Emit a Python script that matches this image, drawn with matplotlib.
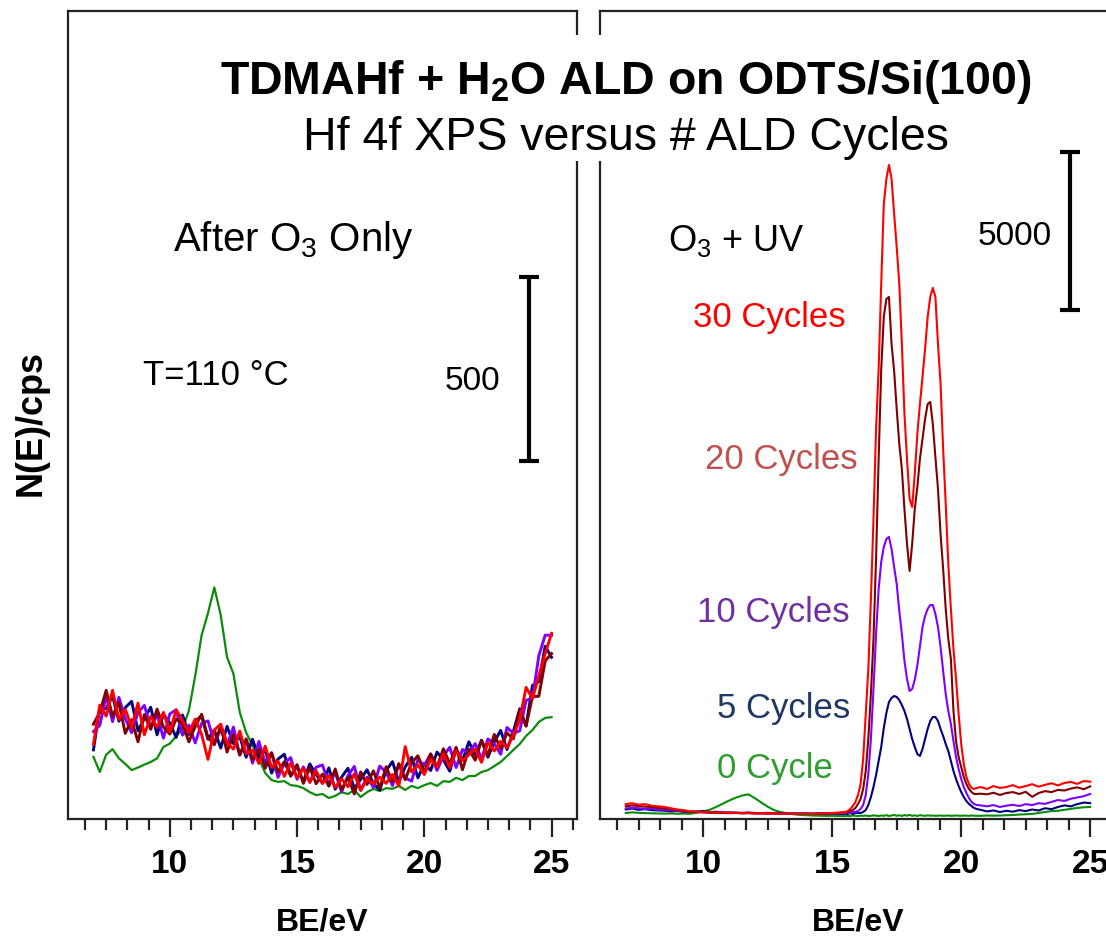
import numpy as np
import matplotlib
matplotlib.use("Agg")
import matplotlib.pyplot as plt
from matplotlib.patches import Rectangle
from matplotlib.ticker import MultipleLocator

plt.rcParams['font.family'] = ['Liberation Sans', 'DejaVu Sans']
plt.rcParams['mathtext.fontset'] = 'custom'
plt.rcParams['mathtext.rm'] = 'Liberation Sans'
plt.rcParams['mathtext.bf'] = 'Liberation Sans:bold'
plt.rcParams['mathtext.it'] = 'Liberation Sans:italic'

# ---------------- data ----------------
# Left panel (After O3 only): BE grid 7..25 eV, 0.25 eV steps (relative counts)
BE_LEFT = np.linspace(7.0, 25.0, 73)

left_0cyc = [169, 128, 175, 190, 165, 150, 133, 140, 148, 155, 165, 196,
             205, 225, 245, 295, 390, 500, 560, 630, 555, 440, 395, 290,
             235, 200, 165, 125, 106, 101, 103, 92, 90, 84, 73, 65,
             68, 57, 63, 73, 68, 79, 60, 73, 82, 76, 84, 82,
             90, 79, 90, 84, 92, 98, 90, 103, 101, 112, 106, 117,
             117, 128, 133, 144, 155, 171, 188, 204, 226, 242, 264, 275,
             277]
left_5cyc = [188, 305, 300, 335, 266, 303, 320, 240, 274, 304, 229, 285,
             261, 222, 283, 230, 267, 280, 217, 242, 193, 252, 205, 224,
             168, 217, 166, 188, 125, 163, 176, 117, 143, 102, 150, 121,
             97, 139, 81, 114, 138, 83, 108, 134, 96, 79, 132, 156,
             100, 142, 168, 112, 151, 132, 182, 161, 130, 190, 159, 210,
             175, 214, 168, 210, 241, 189, 238, 300, 253, 363, 374, 470,
             440]
left_10cyc = [238, 255, 335, 265, 331, 273, 235, 290, 309, 249, 284, 220,
              286, 297, 228, 255, 207, 260, 267, 207, 243, 202, 250, 174,
              213, 152, 211, 153, 180, 113, 151, 167, 108, 142, 100, 141,
              147, 94, 126, 74, 118, 143, 78, 114, 86, 144, 127, 91,
              150, 112, 103, 162, 146, 177, 132, 171, 195, 140, 189, 180,
              205, 164, 218, 205, 176, 249, 233, 240, 323, 328, 444, 500,
              500]
left_20cyc = [258, 290, 350, 280, 316, 233, 270, 210, 284, 244, 299, 250,
              231, 272, 258, 210, 252, 285, 222, 202, 253, 182, 230, 174,
              218, 162, 191, 138, 180, 128, 156, 117, 148, 97, 140, 96,
              122, 89, 136, 79, 113, 68, 128, 94, 131, 84, 142, 101,
              150, 107, 153, 172, 126, 177, 142, 191, 150, 195, 134, 190,
              160, 214, 173, 230, 191, 234, 218, 295, 253, 333, 334, 430,
              450]
left_30cyc = [203, 310, 280, 350, 271, 298, 250, 315, 229, 279, 249, 290,
              236, 297, 268, 235, 272, 230, 162, 242, 258, 207, 190, 239,
              178, 187, 151, 198, 140, 158, 116, 152, 113, 137, 100, 131,
              97, 119, 86, 109, 88, 123, 78, 109, 96, 114, 97, 121,
              90, 197, 128, 147, 121, 162, 142, 176, 140, 185, 159, 175,
              190, 154, 208, 185, 211, 194, 228, 270, 358, 328, 389, 450,
              505]

# Right panel (O3 + UV): BE grid 7..15.5 (0.25), 15.6..20.6 (0.1), 20.75..25 (0.25)
BE_RIGHT = np.concatenate([np.linspace(7.0, 15.5, 35),
                           np.linspace(15.6, 20.6, 51),
                           np.linspace(20.75, 25.0, 18)])

right_0cyc = ([190, 210, 195, 185, 180, 175, 170, 175, 165, 170, 165, 200,
               240, 290, 380, 480, 580, 670, 740, 780, 660, 520, 390, 280,
               220, 180, 150, 130, 120, 110, 105, 100, 100, 95, 95]
              + [100, 95, 110, 100, 95, 105, 100, 110, 95, 100, 115, 105, 95,
                 110, 100, 120, 95, 110, 130, 100, 120, 95, 125, 105, 130, 100,
                 115, 95, 120, 110, 100, 115, 105, 110, 100, 105, 110, 100, 105,
                 110, 100, 105, 110, 105, 100, 110, 105, 100, 110, 105, 100]
              + [100, 110, 105, 110, 120, 125, 140, 150, 160, 190, 220, 250,
                 260, 290, 320, 350, 370, 380])
right_5cyc = ([300, 330, 290, 310, 280, 270, 260, 240, 250, 230, 220, 240,
               250, 215, 230, 205, 210, 200, 195, 205, 190, 185, 195, 180,
               185, 175, 180, 170, 175, 165, 170, 160, 165, 160, 165]
              + [158, 190, 158, 190, 190, 190, 221, 284, 442, 695,
                 1011, 1390, 1833, 2275, 2876, 3350, 3697, 3824, 3887, 3855,
                 3760, 3602, 3413, 3160, 2844, 2528, 2275, 2054, 1991, 2212,
                 2528, 2844, 3097, 3223, 3223, 3097, 2844, 2623, 2370, 2149,
                 1833, 1517, 1264, 1043, 853, 695, 569, 474, 411, 348, 316]
              + [290, 240, 270, 220, 260, 230, 280, 250, 300, 270, 340, 310,
                 380, 430, 400, 470, 520, 500])
right_10cyc = ([330, 360, 340, 320, 330, 300, 290, 270, 260, 240, 230, 220,
                215, 205, 200, 195, 190, 195, 185, 190, 180, 185, 175, 180,
                170, 175, 165, 170, 165, 170, 175, 170, 175, 180, 185]
               + [190, 190, 221, 221, 253, 316, 442, 758, 1422, 2528,
                  4108, 5846, 7268, 8121, 8595, 8848, 8911, 8532, 7963, 7426,
                  6573, 5846, 4993, 4424, 4045, 4108, 4400, 4850, 5450, 6067,
                  6415, 6636, 6762, 6762, 6478, 6067, 5435, 4677, 3950, 3413,
                  3002, 2465, 1959, 1580, 1264, 1011, 822, 664, 537, 474, 442]
               + [430, 400, 440, 380, 420, 450, 410, 470, 440, 500, 480, 540,
                  600, 570, 640, 680, 720, 790])
right_20cyc = ([400, 430, 410, 390, 380, 350, 330, 300, 280, 260, 230, 220,
                210, 200, 195, 190, 185, 190, 180, 185, 175, 180, 170, 175,
                165, 170, 160, 165, 170, 165, 175, 180, 185, 195, 210]
               + [221, 253, 284, 348, 474, 632, 948, 1517, 2528, 3950,
                  5688, 8216, 11376, 14220, 15863, 16432, 16495, 15010, 14157, 12956,
                  11850, 11060, 9796, 8690, 7837, 8690, 9796, 10491, 11376, 12008,
                  12640, 13114, 13177, 12482, 11439, 10428, 9006, 7900, 6636, 5688,
                  5056, 3413, 2465, 1959, 1643, 1327, 1106, 948, 853, 790, 790]
               + [800, 780, 830, 760, 820, 850, 790, 860, 700, 820, 880, 850,
                  920, 900, 960, 1000, 940, 1030])
right_30cyc = ([470, 500, 450, 470, 420, 400, 380, 340, 300, 280, 240, 230,
                220, 215, 200, 210, 190, 200, 185, 190, 180, 175, 185, 170,
                165, 175, 160, 170, 165, 160, 170, 175, 190, 200, 220]
               + [253, 316, 411, 537, 758, 1106, 1896, 3318, 4740, 6952,
                  9480, 12324, 14220, 16906, 19434, 20224, 20666, 20224, 19118, 18075,
                  16906, 15010, 12798, 11376, 10112, 9859, 10902, 12166, 13114, 13967,
                  14852, 15863, 16495, 16780, 16495, 15010, 13746, 11692, 9954, 8058,
                  6636, 5372, 4424, 3318, 2370, 1738, 1327, 1106, 980, 948, 980]
               + [1011, 950, 1040, 980, 1010, 1070, 990, 1040, 1100, 1020, 1080, 1130,
                  1060, 1140, 1170, 1110, 1200, 1180])

SERIES_COLORS = ['#0A8C0A', '#000080', '#8000FF', '#800000', '#FF0000']
CYCLE_LABELS = ['0 Cycle', '5 Cycles', '10 Cycles', '20 Cycles', '30 Cycles']
LABEL_COLORS = ['#2E9E2E', '#1F3864', '#7030A0', '#C0504D', '#FF0000']
XTICKS = [10, 15, 20, 25]
SCALE_LEFT = 500
SCALE_RIGHT = 5000

left_series = [left_0cyc, left_5cyc, left_10cyc, left_20cyc, left_30cyc]
right_series = [right_0cyc, right_5cyc, right_10cyc, right_20cyc, right_30cyc]

# ---------------- figure ----------------
W, H = 1106, 945
fig = plt.figure(figsize=(W / 100, H / 100), dpi=100)


def fx(px):
    return px / W


def fy(py):
    return 1 - py / H


axL = fig.add_axes([fx(68), fy(820), 509 / W, 808 / H])
axR = fig.add_axes([fx(600), fy(820), 516 / W, 808 / H])

left_lw = [1.6, 2.1, 2.1, 2.1, 2.1]
right_lw = [1.5, 1.5, 1.5, 1.5, 1.5]
for ax, series, lws, ymax, BE in ((axL, left_series, left_lw, 2198, BE_LEFT),
                                  (axR, right_series, right_lw, 25530, BE_RIGHT)):
    for vals, col, lw in zip(series, SERIES_COLORS, lws):
        ax.plot(BE, vals, color=col, lw=lw, solid_joinstyle='round')
    ax.set_xlim(6.0, 26.0)
    ax.set_ylim(0, ymax)
    ax.set_yticks([])
    ax.set_xticks(XTICKS)
    ax.set_xticklabels([str(t) for t in XTICKS], fontsize=24, fontweight='bold')
    ax.xaxis.set_minor_locator(MultipleLocator(5 / 6))
    ax.tick_params(axis='x', which='major', direction='out', length=13, width=1.6,
                   pad=8, color='#222222')
    ax.tick_params(axis='x', which='minor', direction='out', length=8, width=1.6,
                   color='#222222')
    for sp in ax.spines.values():
        sp.set_linewidth(1.6)
        sp.set_color('#222222')
    ax.set_xlabel('BE/eV', fontsize=23, fontweight='bold', labelpad=20)

# scale bars
axL.errorbar([24.1], [974 + SCALE_LEFT / 2], yerr=[SCALE_LEFT / 2], color='black',
             elinewidth=3, capsize=7, capthick=3)
axR.errorbar([24.2], [16084 + SCALE_RIGHT / 2], yerr=[SCALE_RIGHT / 2], color='black',
             elinewidth=3, capsize=7, capthick=3)

# white title box hiding the inner spines
fig.add_artist(Rectangle((fx(200), fy(162)), (1055 - 200) / W, (162 - 36) / H,
                         transform=fig.transFigure, facecolor='white',
                         edgecolor='none', zorder=5))

fig.text(fx(626), fy(94), r'TDMAHf + H$_\mathbf{2}$O ALD on ODTS/Si(100)',
         ha='center', va='baseline', fontsize=33.5, fontweight='bold', zorder=6)
fig.text(fx(626), fy(150), 'Hf 4f XPS versus # ALD Cycles',
         ha='center', va='baseline', fontsize=33.5, zorder=6)

fig.text(fx(173), fy(251), r'After O$_3$ Only', ha='left', va='baseline', fontsize=29)
fig.text(fx(143), fy(385), 'T=110 °C', ha='left', va='baseline', fontsize=25)
fig.text(fx(445), fy(390), str(SCALE_LEFT), ha='left', va='baseline', fontsize=24)

fig.text(fx(668), fy(251), r'O$_3$ + UV', ha='left', va='baseline', fontsize=26)
fig.text(fx(978), fy(245), str(SCALE_RIGHT), ha='left', va='baseline', fontsize=24)

label_pos = [(717, 778), (717, 718), (697, 622), (705, 469), (693, 327)]
for txt, col, (px, py) in zip(CYCLE_LABELS, LABEL_COLORS, label_pos):
    fig.text(fx(px), fy(py), txt, ha='left', va='baseline', fontsize=25, color=col)

fig.text(fx(31), fy(423), 'N(E)/cps', rotation=90, ha='center', va='center',
         fontsize=26, fontweight='bold')

fig.savefig('out.png', dpi=100)
